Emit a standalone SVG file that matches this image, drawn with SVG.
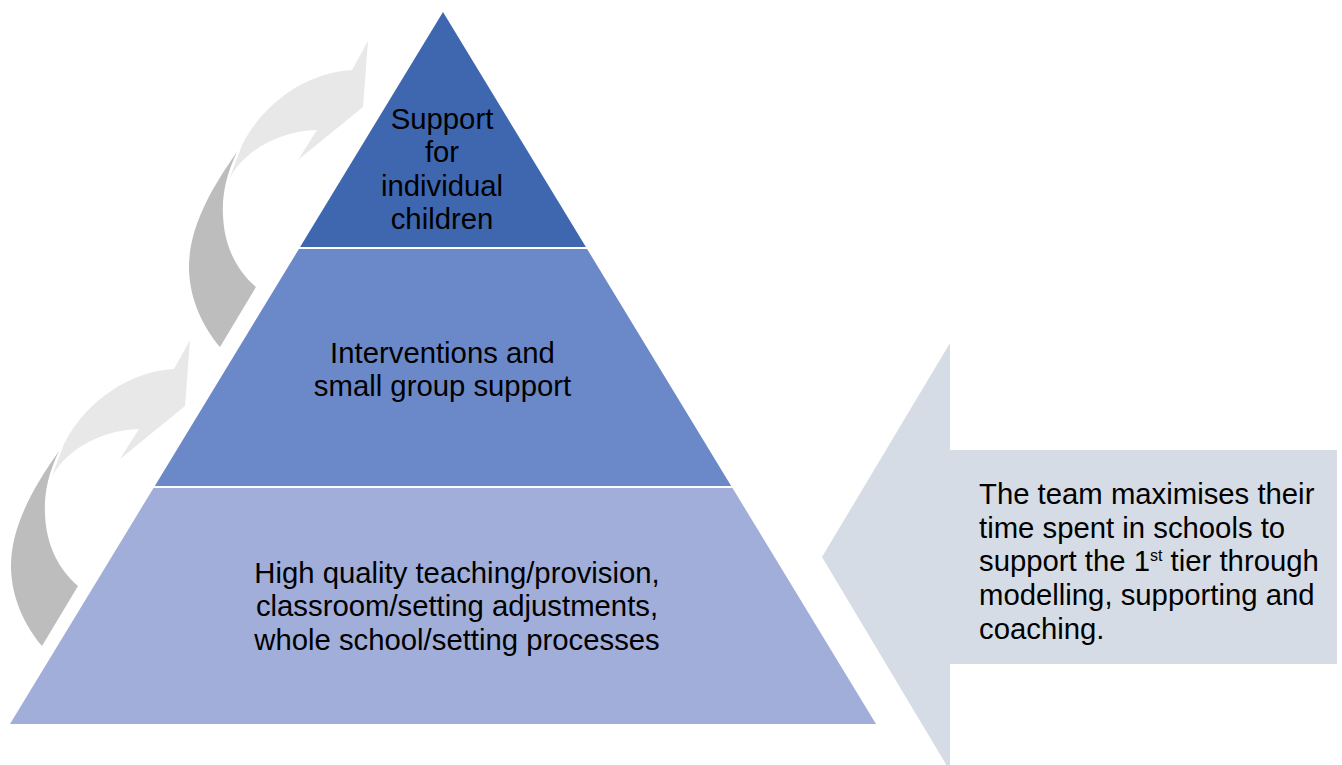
<svg xmlns="http://www.w3.org/2000/svg" width="1342" height="765" viewBox="0 0 1342 765">
  <style>
    .t { font-family: "Liberation Sans", Arial, sans-serif; font-size: 29.3px; fill: #000; }
    .c { text-anchor: middle; }
    .dark { fill: #BDBDBD; }
    .light { fill: #E8E8E8; }
  </style>
  <defs>
    <g id="curved">
      <path class="dark" d="M 237,152 C 210,190 188,230 189,270 C 190,300 203,327 220,347 L 256,287 C 236,270 224,245 223,215 C 222,195 226,175 237,152 Z"/>
      <path class="light" d="M 352,70 C 310,72 265,100 242,145 L 229,180 C 240,155 275,131 317,130 L 298,160 L 363,107 L 368,41 Z"/>
    </g>
  </defs>
  <rect width="1342" height="765" fill="#FFFFFF"/>

  <g id="connectors">
    <use href="#curved"/>
    <use href="#curved" transform="translate(-178,299)"/>
  </g>

  <g id="tier-top">
    <polygon points="443,12 585.9,247 300.1,247" fill="#3E67B0"/>
    <text class="t c" x="442" y="128.5">Support</text>
    <text class="t c" x="442" y="162">for</text>
    <text class="t c" x="442" y="195.5">individual</text>
    <text class="t c" x="442" y="229">children</text>
  </g>

  <g id="tier-middle">
    <polygon points="298.9,249 587.1,249 731.2,486 154.8,486" fill="#6B89C8"/>
    <text class="t c" x="442.5" y="362.5">Interventions and</text>
    <text class="t c" x="442.5" y="396">small group support</text>
  </g>

  <g id="tier-bottom">
    <polygon points="153.5,488 732.5,488 876,724 10,724" fill="#A0AED9"/>
    <text class="t c" x="457" y="582.5">High quality teaching/provision,</text>
    <text class="t c" x="457" y="616">classroom/setting adjustments,</text>
    <text class="t c" x="457" y="649.5">whole school/setting processes</text>
  </g>

  <g id="big-arrow">
    <polygon points="822,557 950,343 950,450 1337,450 1337,664 950,664 950,771" fill="#D6DCE5"/>
    <text class="t" x="979" y="504">The team maximises their</text>
    <text class="t" x="979" y="537.7">time spent in schools to</text>
    <text class="t" x="979" y="571.4">support the 1<tspan font-size="16" dy="-10.5">st</tspan><tspan dy="10.5"> tier through</tspan></text>
    <text class="t" x="979" y="605.1">modelling, supporting and</text>
    <text class="t" x="979" y="638.8">coaching.</text>
  </g>
</svg>
